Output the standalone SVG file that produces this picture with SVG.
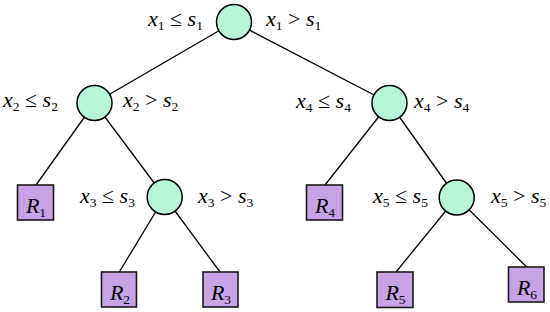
<svg xmlns="http://www.w3.org/2000/svg" width="550" height="312" viewBox="0 0 550 312">
<style>
.edge{stroke:#000;stroke-width:1.3;fill:none}
.dec{fill:#b6f5d8;stroke:#000;stroke-width:1.5}
.leaf{fill:#c5a3e5;stroke:#1a1a1a;stroke-width:1.6}
.t{font-family:'Liberation Serif','DejaVu Serif',serif;font-size:22px;fill:#000}
.i{font-style:italic}
.s{font-size:13.5px}
</style>
<rect width="550" height="312" fill="#fff"/>
<g id="connectors">
<line class="edge" x1="234" y1="22" x2="94.5" y2="103"/>
<line class="edge" x1="234" y1="22" x2="389.5" y2="103"/>
<line class="edge" x1="94.5" y1="103" x2="36" y2="185"/>
<line class="edge" x1="94.5" y1="103" x2="164.7" y2="197"/>
<line class="edge" x1="164.7" y1="197" x2="119.3" y2="272"/>
<line class="edge" x1="164.7" y1="197" x2="220" y2="272"/>
<line class="edge" x1="389.5" y1="103" x2="325" y2="185"/>
<line class="edge" x1="389.5" y1="103" x2="456.7" y2="197.5"/>
<line class="edge" x1="456.7" y1="197.5" x2="396" y2="272"/>
<line class="edge" x1="456.7" y1="197.5" x2="526.7" y2="267"/>
</g>
<g id="n1">
<circle class="dec" cx="234" cy="22" r="17.5"/>
<text class="t" x="148" y="26"><tspan class="i">x</tspan><tspan class="s" dy="4">1</tspan><tspan dy="-4"> ≤ </tspan><tspan class="i">s</tspan><tspan class="s" dy="4">1</tspan></text>
<text class="t" x="266" y="26"><tspan class="i">x</tspan><tspan class="s" dy="4">1</tspan><tspan dy="-4"> &gt; </tspan><tspan class="i">s</tspan><tspan class="s" dy="4">1</tspan></text>
</g>
<g id="n2">
<circle class="dec" cx="94.5" cy="103" r="17.5"/>
<text class="t" x="3" y="107"><tspan class="i">x</tspan><tspan class="s" dy="4">2</tspan><tspan dy="-4"> ≤ </tspan><tspan class="i">s</tspan><tspan class="s" dy="4">2</tspan></text>
<text class="t" x="123" y="107"><tspan class="i">x</tspan><tspan class="s" dy="4">2</tspan><tspan dy="-4"> &gt; </tspan><tspan class="i">s</tspan><tspan class="s" dy="4">2</tspan></text>
</g>
<g id="n4">
<circle class="dec" cx="389.5" cy="103" r="17.5"/>
<text class="t" x="296" y="108"><tspan class="i">x</tspan><tspan class="s" dy="4">4</tspan><tspan dy="-4"> ≤ </tspan><tspan class="i">s</tspan><tspan class="s" dy="4">4</tspan></text>
<text class="t" x="414" y="108"><tspan class="i">x</tspan><tspan class="s" dy="4">4</tspan><tspan dy="-4"> &gt; </tspan><tspan class="i">s</tspan><tspan class="s" dy="4">4</tspan></text>
</g>
<g id="n3">
<circle class="dec" cx="164.7" cy="197" r="17.5"/>
<text class="t" x="80" y="203"><tspan class="i">x</tspan><tspan class="s" dy="4">3</tspan><tspan dy="-4"> ≤ </tspan><tspan class="i">s</tspan><tspan class="s" dy="4">3</tspan></text>
<text class="t" x="198" y="203"><tspan class="i">x</tspan><tspan class="s" dy="4">3</tspan><tspan dy="-4"> &gt; </tspan><tspan class="i">s</tspan><tspan class="s" dy="4">3</tspan></text>
</g>
<g id="n5">
<circle class="dec" cx="456.7" cy="197.5" r="17.5"/>
<text class="t" x="373" y="203"><tspan class="i">x</tspan><tspan class="s" dy="4">5</tspan><tspan dy="-4"> ≤ </tspan><tspan class="i">s</tspan><tspan class="s" dy="4">5</tspan></text>
<text class="t" x="491" y="203"><tspan class="i">x</tspan><tspan class="s" dy="4">5</tspan><tspan dy="-4"> &gt; </tspan><tspan class="i">s</tspan><tspan class="s" dy="4">5</tspan></text>
</g>
<g id="r1">
<rect class="leaf" x="17.5" y="185" width="36" height="35"/>
<text class="t" x="36" y="213" text-anchor="middle"><tspan class="i">R</tspan><tspan class="s" dy="4">1</tspan></text>
</g>
<g id="r2">
<rect class="leaf" x="101.5" y="272" width="35" height="35"/>
<text class="t" x="120" y="300" text-anchor="middle"><tspan class="i">R</tspan><tspan class="s" dy="4">2</tspan></text>
</g>
<g id="r3">
<rect class="leaf" x="203" y="272" width="35" height="35"/>
<text class="t" x="221" y="300" text-anchor="middle"><tspan class="i">R</tspan><tspan class="s" dy="4">3</tspan></text>
</g>
<g id="r4">
<rect class="leaf" x="306.5" y="185" width="36" height="35"/>
<text class="t" x="325" y="213" text-anchor="middle"><tspan class="i">R</tspan><tspan class="s" dy="4">4</tspan></text>
</g>
<g id="r5">
<rect class="leaf" x="377" y="272" width="36" height="35.5"/>
<text class="t" x="395.5" y="300" text-anchor="middle"><tspan class="i">R</tspan><tspan class="s" dy="4">5</tspan></text>
</g>
<g id="r6">
<rect class="leaf" x="508.5" y="267" width="35.5" height="35"/>
<text class="t" x="527" y="294.5" text-anchor="middle"><tspan class="i">R</tspan><tspan class="s" dy="4">6</tspan></text>
</g>
</svg>
